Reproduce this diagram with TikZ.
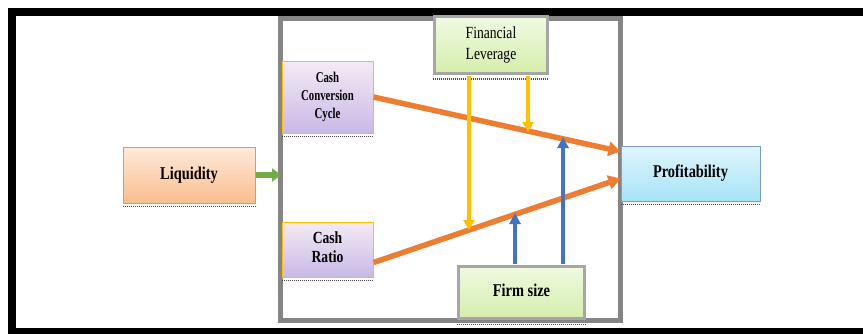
\documentclass[tikz,border=0pt]{standalone}
\usepackage{fontspec}
\usetikzlibrary{arrows.meta,calc}
\setmainfont{Liberation Serif}
\newcommand{\sqz}[2][0.8]{\scalebox{#1}[1]{\begin{tabular}{@{}c@{}}#2\end{tabular}}}
\definecolor{frameg}{HTML}{858585}
\definecolor{boxg}{HTML}{A6A6A6}
\definecolor{orng}{HTML}{ED7D31}
\definecolor{yell}{HTML}{FFC000}
\definecolor{blu}{HTML}{4472C4}
\definecolor{grn}{HTML}{70AD47}
\tikzset{
  box/.style={inner sep=0pt, align=center, text=black},
  purplebox/.style={box, draw=yell, line width=1pt, top color=violet!8, bottom color={rgb,255:red,200;green,184;blue,230}},
  greenbox/.style={box, draw=boxg, line width=3pt, top color={rgb,255:red,240;green,250;blue,226}, bottom color={rgb,255:red,212;green,238;blue,172}},
  orangearrow/.style={draw=orng, line width=5.5pt, -{Triangle[length=12pt,width=14pt]}},
  yellowarrow/.style={draw=yell, line width=3.5pt, -{Triangle[length=10pt,width=11pt]}},
  bluearrow/.style={draw=blu, line width=4pt, -{Triangle[length=11pt,width=11pt]}},
  shadowline/.style={draw=black!70, line width=1.2pt, dash pattern=on 1pt off 1pt},
}
\begin{document}
\begin{tikzpicture}[x=1pt,y=-1pt]
\useasboundingbox (0,0) rectangle (863,333);
\fill[white] (0,0) rectangle (863,333);
% outer black frame
\begin{scope}
\clip (0,0) rectangle (863,333);
\draw[black, line width=8pt] (12,12) rectangle (870,332);
\end{scope}
% grey frame
\draw[frameg, line width=5pt] (280.5,18.5) rectangle (620.5,320);

% nodes
\node[box, draw={rgb,255:red,155;green,187;blue,89}, line width=1pt,
  top color={rgb,255:red,253;green,234;blue,218}, bottom color={rgb,255:red,249;green,190;blue,142},
  minimum width=132pt, minimum height=56pt, font=\fontsize{18}{20}\selectfont\bfseries]
  (liq) at (189,175) {\sqz{Liquidity}};
\node[box, draw={rgb,255:red,124;green,156;blue,198}, line width=1pt,
  top color={rgb,255:red,224;green,245;blue,252}, bottom color={rgb,255:red,166;green,228;blue,248},
  minimum width=139pt, minimum height=55pt, font=\fontsize{18}{20}\selectfont\bfseries]
  (prof) at (690.5,173.5) {\sqz{Profitability}};
\node[purplebox, minimum width=91pt, minimum height=72pt, font=\fontsize{15}{18}\selectfont\bfseries]
  (ccc) at (327.5,97) {\sqz[0.72]{Cash\\Conversion\\Cycle}};
\node[purplebox, minimum width=91pt, minimum height=55pt, font=\fontsize{17}{19}\selectfont\bfseries]
  (cr) at (327.5,249.5) {\sqz{Cash\\Ratio}};
\node[greenbox, minimum width=113pt, minimum height=57pt, font=\fontsize{17}{21}\selectfont]
  (fl) at (491,45) {\sqz{Financial\\Leverage}};
\node[greenbox, minimum width=126pt, minimum height=52pt, font=\fontsize{18}{20}\selectfont\bfseries]
  (fs) at (521.5,292) {\sqz{Firm size}};

% shadow lines under boxes
\draw[shadowline] ($(liq.south west)+(0,3)$) -- ($(liq.south east)+(0,3)$);
\draw[shadowline] ($(prof.south west)+(0,3)$) -- ($(prof.south east)+(0,3)$);
\draw[shadowline] ($(ccc.south west)+(0,3)$) -- ($(ccc.south east)+(0,3)$);
\draw[shadowline] ($(cr.south west)+(0,3)$) -- ($(cr.south east)+(0,3)$);
\draw[shadowline] ($(fl.south west)+(0,4)$) -- ($(fl.south east)+(0,4)$);
\draw[shadowline] ($(fs.south west)+(0,5)$) -- ($(fs.south east)+(0,5)$);

% connectors
\coordinate (liqin) at (281,175);
\draw[draw=grn, line width=6pt, -{Triangle[length=9pt,width=13pt]}] (liq.east) -- (liqin);

\coordinate (o1s) at ($(ccc.east)+(0,0)$);
\coordinate (o1e) at ($(prof.north west)+(0,6)$);
\coordinate (o2s) at ($(cr.east)+(0,13)$);
\coordinate (o2e) at ($(prof.west)+(0,5)$);
\draw[orangearrow] (o1s) -- (o1e);
\draw[orangearrow] (o2s) -- (o2e);

\coordinate (y1s) at (469,76);
\coordinate (y1e) at (469,230);
\coordinate (y2s) at (528,76);
\coordinate (y2e) at (528,132);
\draw[yellowarrow] (y1s) -- (y1e);
\draw[yellowarrow] (y2s) -- (y2e);

\coordinate (b1s) at (515,264);
\coordinate (b1e) at (515,213);
\coordinate (b2s) at (563,264);
\coordinate (b2e) at (563,137);
\draw[bluearrow] (b1s) -- (b1e);
\draw[bluearrow] (b2s) -- (b2e);
\end{tikzpicture}
\end{document}
